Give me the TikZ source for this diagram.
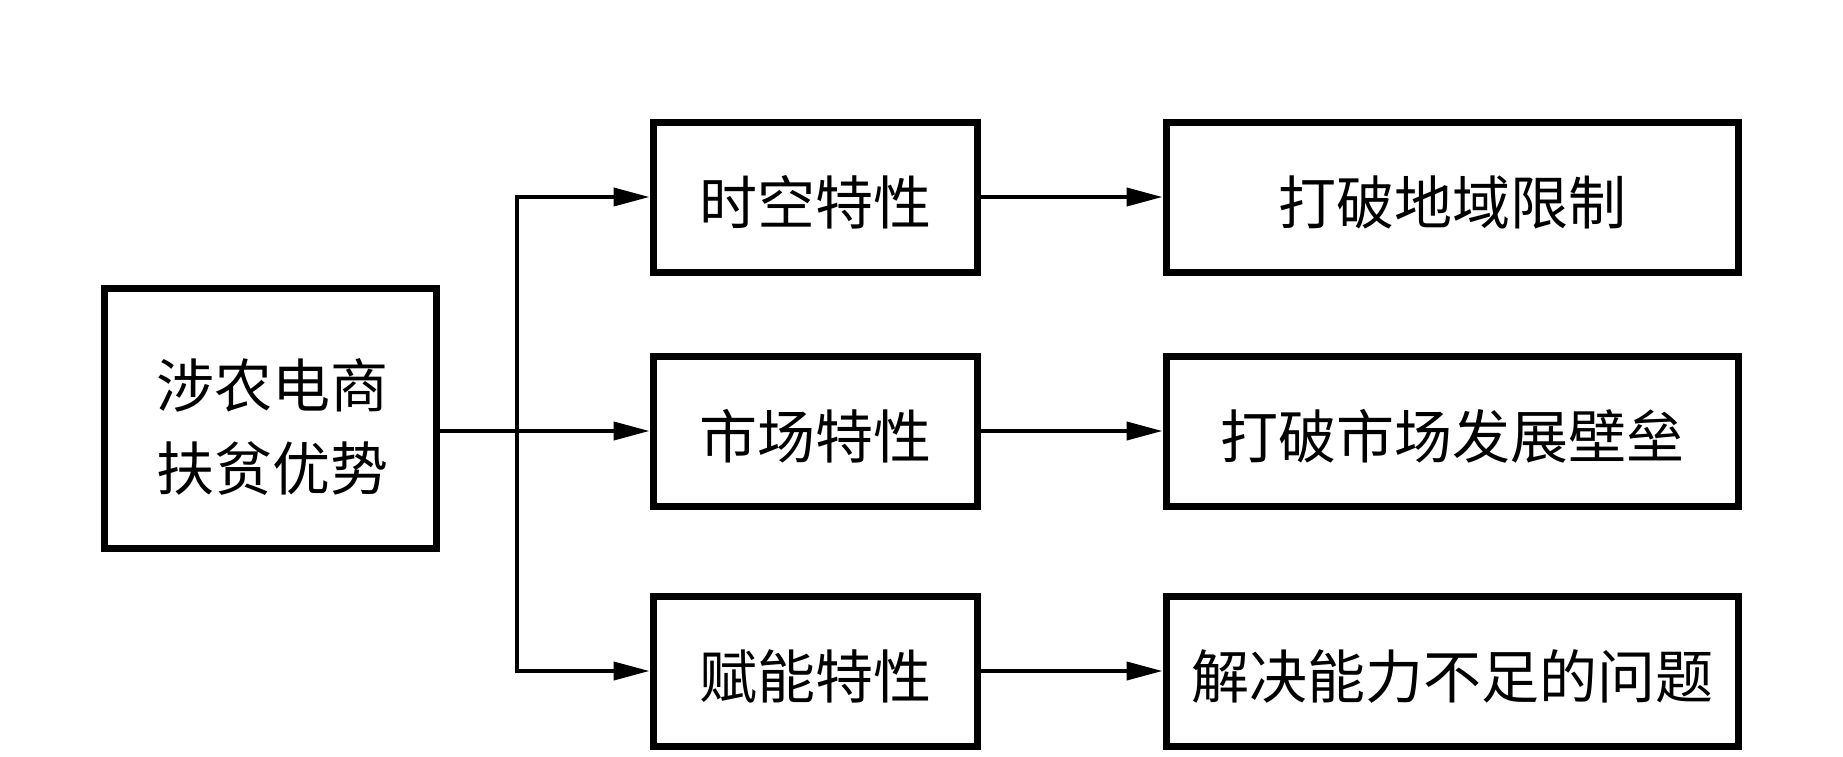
\documentclass[tikz,border=0pt]{standalone}
\usepackage{fontspec}
\setmainfont{Noto Sans CJK SC}
\usetikzlibrary{arrows.meta}
\begin{document}
\begin{tikzpicture}[x=1pt,y=1pt,
  box/.style={draw, line width=7pt, inner sep=0pt, minimum height=150pt,
    font=\fontsize{58}{70}\selectfont, text height=54pt, text depth=0pt},
  mbox/.style={box, minimum width=324pt},
  rbox/.style={box, minimum width=572pt},
  arr/.style={line width=4pt, -{Triangle[length=36pt,width=18pt]}}]
\useasboundingbox (0,0) rectangle (1843,-756);
\node[draw, line width=7pt, minimum width=332pt, minimum height=260pt, inner sep=0pt] (lb) at (270.5,-418.5) {};
\node[font=\fontsize{58}{82.5}\selectfont, align=center, inner sep=0pt] (lbt) at (272,-427) {涉农电商\\扶贫优势};
\node[mbox] (m1) at (815,-197) {时空特性};
\node[mbox] (m2) at (815,-431) {市场特性};
\node[mbox] (m3) at (815,-671) {赋能特性};
\node[rbox] (r1) at (1452,-197) {打破地域限制};
\node[rbox] (r2) at (1452,-431) {打破市场发展壁垒};
\node[rbox] (r3) at (1452,-671) {解决能力不足的问题};
\coordinate (j) at (517,-431);
\draw[arr] (lb.east |- m2.west) -- (m2.west);
\draw[arr] (j) |- (m1.west);
\draw[arr] (j) |- (m3.west);
\draw[arr] (m1.east) -- (r1.west);
\draw[arr] (m2.east) -- (r2.west);
\draw[arr] (m3.east) -- (r3.west);
\end{tikzpicture}
\end{document}
